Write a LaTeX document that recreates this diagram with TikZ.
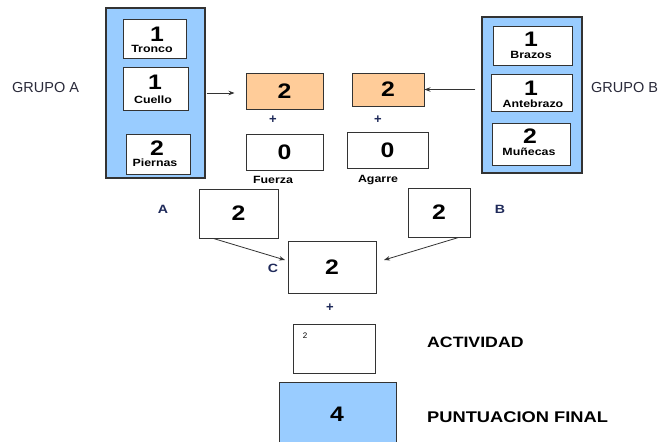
\documentclass[tikz,border=0pt]{standalone}
\usepackage{fontspec}
\setmainfont{Liberation Sans}
\newfontfamily\wfont{Liberation Sans}[FakeStretch=1.18]
\usetikzlibrary{arrows.meta,calc}
\definecolor{bluefill}{HTML}{99CCFF}
\definecolor{orangefill}{HTML}{FFCC99}
\definecolor{edge}{HTML}{333333}
\definecolor{navy}{HTML}{1F2A5A}
\definecolor{grey}{HTML}{2A2A3A}
\tikzset{
  box/.style={draw=edge, line width=1pt, fill=white, inner sep=0pt},
  bigbox/.style={draw=edge, line width=1.3pt, fill=bluefill, inner sep=0pt},
  obox/.style={draw=edge, line width=1pt, fill=orangefill, inner sep=0pt},
  num/.style={font=\wfont\bfseries\fontsize{21}{21}\selectfont, inner sep=0pt},
  lab/.style={font=\wfont\bfseries\fontsize{10.5}{11}\selectfont, inner sep=0pt, text=black},
  grp/.style={font=\fontsize{14.5}{15}\selectfont, inner sep=0pt, text=grey},
  big/.style={font=\wfont\bfseries\fontsize{15}{16}\selectfont, inner sep=0pt, text=black},
  letter/.style={font=\wfont\bfseries\fontsize{12}{12}\selectfont, inner sep=0pt, text=navy},
  plus/.style={font=\bfseries\fontsize{13}{13}\selectfont, inner sep=0pt, text=navy},
  arr/.style={draw=edge, line width=0.8pt, -{Stealth[length=6pt,width=4.5pt]}}
}
\begin{document}
\begin{tikzpicture}[x=1pt,y=-1pt]
\useasboundingbox[fill=white] (0,0) rectangle (665,442);
% Group A
\node[bigbox, minimum width=99pt, minimum height=170pt] (grpA) at (155.5,93) {};
\node[box, minimum width=63pt, minimum height=39pt] (tr) at (154.5,38.5) {};
\node[box, minimum width=65pt, minimum height=43pt] (cu) at (155.5,88.5) {};
\node[box, minimum width=64pt, minimum height=40pt] (pi) at (158,154) {};
\node[num] (trn) at (157,34) {1};
\node[lab] (trl) at (152,49) {Tronco};
\node[num] (cun) at (155,82) {1};
\node[lab] (cul) at (153,100) {Cuello};
\node[num] (pin) at (157,148) {2};
\node[lab] (pil) at (155,163) {Piernas};
\node[grp, anchor=west] (ga) at (12,88) {GRUPO A};
% Group B
\node[bigbox, minimum width=100pt, minimum height=156pt] (grpB) at (532,95) {};
\node[box, minimum width=79pt, minimum height=39pt] (br) at (532.5,45.5) {};
\node[box, minimum width=81pt, minimum height=37pt] (an) at (531.5,92.5) {};
\node[box, minimum width=78pt, minimum height=42pt] (mu) at (531,144) {};
\node[num] (brn) at (531,39) {1};
\node[lab] (brl) at (531,55) {Brazos};
\node[num] (ann) at (531,88) {1};
\node[lab] (anl) at (533,104) {Antebrazo};
\node[num] (mun) at (530,136) {2};
\node[lab] (mul) at (529,152) {Muñecas};
\node[grp, anchor=west] (gb) at (591,88) {GRUPO B};
% orange and force boxes
\node[obox, minimum width=77pt, minimum height=36pt] (oa) at (284.5,91) {};
\node[num] at (oa) {2};
\node[obox, minimum width=72pt, minimum height=33pt] (ob) at (388,89.5) {};
\node[num] at (ob) {2};
\node[plus] (pa) at (273,120) {+};
\node[plus] (pb) at (378,120) {+};
\node[box, minimum width=77pt, minimum height=36pt] (fu) at (284.5,152) {};
\node[num] at (fu) {0};
\node[box, minimum width=81pt, minimum height=36pt] (ag) at (387.5,150) {};
\node[num] at (ag) {0};
\node[lab] (ful) at (273,180) {Fuerza};
\node[lab] (agl) at (378,180) {Agarre};
% A, B, C
\node[box, minimum width=79pt, minimum height=49pt] (ba) at (238.5,213.5) {};
\node[num] at (ba) {2};
\node[box, minimum width=62pt, minimum height=49pt] (bb) at (439,212.5) {};
\node[num] at (bb) {2};
\node[box, minimum width=88pt, minimum height=52pt] (bc) at (332,267) {};
\node[num] at (bc) {2};
\node[letter] (la) at (163,209) {A};
\node[letter] (lb) at (500,209) {B};
\node[letter] (lc) at (273,268) {C};
\coordinate (ea) at (285,260);
\coordinate (eb) at (384,260);
\draw[arr] ([xshift=15pt]ba.south west) -- (ea);
\draw[arr] ([xshift=-12pt]bb.south east) -- (eb);
\draw[arr, shorten <=1pt, shorten >=11pt] (grpA.east) -- (grpA.east -| oa.west);
\draw[arr, shorten <=6pt] (grpB.west |- ob) -- (ob.east);
\node[plus] (pc) at (330,308) {+};
% activity and final
\node[box, minimum width=82pt, minimum height=49pt] (act) at (334,348.5) {};
\node[font=\fontsize{8}{8}\selectfont, inner sep=0pt] (actn) at (305,336) {2};
\node[big, anchor=west] (actl) at (427,342) {ACTIVIDAD};
\node[bigbox, line width=1pt, minimum width=117pt, minimum height=70pt] (fin) at (337.5,417) {};
\node[num] at (337,414) {4};
\node[big, anchor=west, font=\wfont\bfseries\fontsize{15.5}{16}\selectfont] (finl) at (427,417) {PUNTUACION FINAL};
\end{tikzpicture}
\end{document}
